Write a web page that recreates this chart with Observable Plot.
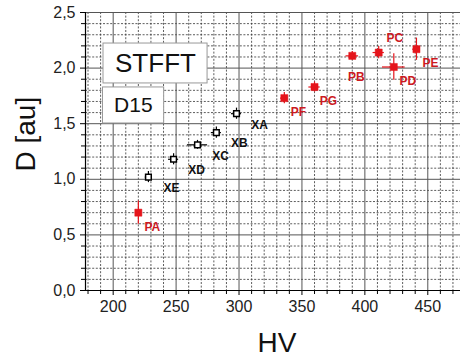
<!DOCTYPE html>
<html><head><meta charset="utf-8">
<script src="https://cdn.jsdelivr.net/npm/d3@7"></script>
<script src="https://cdn.jsdelivr.net/npm/@observablehq/plot@0.6"></script>
<style>
body{margin:0;background:#fff;}
#chart svg{display:block;background:#fff;}
#chart svg, #chart svg text{font-family:"Liberation Sans", Arial, sans-serif !important;}
</style></head><body><div id="chart"></div>
<script>
// X-series (open black squares)
const xNames = ["XE","XD","XC","XB","XA"];
const xHV = [228,248,267,282,298];
const xD = [1.02,1.18,1.31,1.42,1.59];
const xHVerr = [2.5,4,8,4,4];
const xDerr = [0.05,0.05,0.04,0.05,0.05];

// P-series (filled red squares)
const pNames = ["PA","PF","PG","PB","PC","PD","PE"];
const pHV = [220,336,360,390,411,423,441];
const pD = [0.70,1.73,1.83,2.11,2.14,2.01,2.17];
const pHVerr = [2.5,3,4.5,5,4.5,9,3];
const pDerr = [0.105,0.05,0.045,0.04,0.055,0.12,0.1];

const xTicks = [200,250,300,350,400,450];
const yTicks = [0,0.5,1,1.5,2,2.5];
const yTickLabels = ["0,0","0,5","1,0","1,5","2,0","2,5"];
const boxTitle = "STFFT";
const boxSub = "D15";
const xLabel = "HV";
const yLabel = "D [au]";

const X = xNames.map((n,i)=>({name:n, hv:xHV[i], d:xD[i], ex:xHVerr[i], ey:xDerr[i]}));
const P = pNames.map((n,i)=>({name:n, hv:pHV[i], d:pD[i], ex:pHVerr[i], ey:pDerr[i]}));

const xMinor = d3.range(180, 480, 10).filter(v => !xTicks.includes(v));
const yMinor = d3.range(1, 25).map(v => v/10).filter(v => Math.round(v*10) % 5 !== 0);
const RED = "#e5141b";
const RED_T = "#cc1a1f";

const errH = (data, stroke) => Plot.ruleY(data, {y:"d", x1:d=>d.hv-d.ex, x2:d=>d.hv+d.ex, stroke, strokeWidth:1.2});
const errV = (data, stroke) => Plot.ruleX(data, {x:"hv", y1:d=>d.d-d.ey, y2:d=>d.d+d.ey, stroke, strokeWidth:1.2});

const chart = Plot.plot({
  width: 460, height: 363,
  marginLeft: 85, marginRight: 0, marginTop: 12, marginBottom: 73,
  style: {background: "#fff"},
  x: {domain: [178, 476]},
  y: {domain: [0, 2.5]},
  marks: [
    Plot.ruleX(xMinor, {stroke:"#333", strokeDasharray:"2,1.6", strokeWidth:0.8}),
    Plot.ruleY(yMinor, {stroke:"#333", strokeDasharray:"2,1.6", strokeWidth:0.8}),
    Plot.ruleX(xTicks, {stroke:"#555", strokeWidth:1}),
    Plot.ruleY(yTicks, {stroke:"#555", strokeWidth:1}),
    Plot.ruleX([178], {stroke:"#000", strokeWidth:1.2}),
    Plot.ruleY([0], {stroke:"#000", strokeWidth:1.2}),
    Plot.axisX(xMinor, {tickSize:4, tickFormat:()=>"", label:null, stroke:"#000"}),
    Plot.axisX(xTicks, {tickSize:5, tickPadding:5, fontSize:16, label:null, stroke:"#000", fill:"#222"}),
    Plot.axisY(yMinor, {tickSize:4, tickFormat:()=>"", label:null, stroke:"#000"}),
    Plot.axisY(yTicks, {tickSize:5, tickPadding:5, fontSize:16, label:null, stroke:"#000", fill:"#222",
      tickFormat: d => yTickLabels[yTicks.indexOf(d)]}),
    // annotation boxes
    Plot.rect([boxTitle], {x1:()=>192.3, x2:()=>275, y1:()=>1.862, y2:()=>2.221, fill:"#fff", stroke:"#999", strokeWidth:1}),
    Plot.text([boxTitle], {x:()=>233.6, y:()=>2.041, fontSize:26, fill:"#111"}),
    Plot.rect([boxSub], {x1:()=>191.9, x2:()=>240.5, y1:()=>1.502, y2:()=>1.826, fill:"#fff", stroke:"#999", strokeWidth:1}),
    Plot.text([boxSub], {x:()=>216, y:()=>1.664, fontSize:21, fill:"#111"}),
    // error bars
    errH(X, "#000"), errV(X, "#000"),
    errH(P, RED), errV(P, RED),
    // markers
    Plot.dot(X, {x:"hv", y:"d", symbol:"square", r:3.2, fill:"#fff", stroke:"#000", strokeWidth:1.5}),
    Plot.dot(P, {x:"hv", y:"d", symbol:"square", r:4, fill:RED, stroke:RED, strokeWidth:0.5}),
    // point labels
    Plot.text(X, {x:"hv", y:"d", text:"name", dx:23, dy:11, fontSize:12, fontWeight:"bold", fill:"#111"}),
    Plot.text(P.filter(d => d.name !== "PB" && d.name !== "PC"), {x:"hv", y:"d", text:"name", dx:14, dy:14, fontSize:12, fontWeight:"bold", fill:RED_T}),
    Plot.text(P.filter(d => d.name === "PB"), {x:"hv", y:"d", text:"name", dx:4, dy:21, fontSize:12, fontWeight:"bold", fill:RED_T}),
    Plot.text(P.filter(d => d.name === "PC"), {x:"hv", y:"d", text:"name", dx:16, dy:-14, fontSize:12, fontWeight:"bold", fill:RED_T}),
    // axis titles
    Plot.text([xLabel], {frameAnchor:"bottom", dx:4, dy:53, fontSize:28, lineAnchor:"middle", fill:"#111"}),
    Plot.text([yLabel], {frameAnchor:"left", rotate:-90, dx:-59, dy:20, fontSize:28, lineAnchor:"middle", fill:"#111"})
  ]
});
document.getElementById("chart").append(chart);
</script></body></html>
